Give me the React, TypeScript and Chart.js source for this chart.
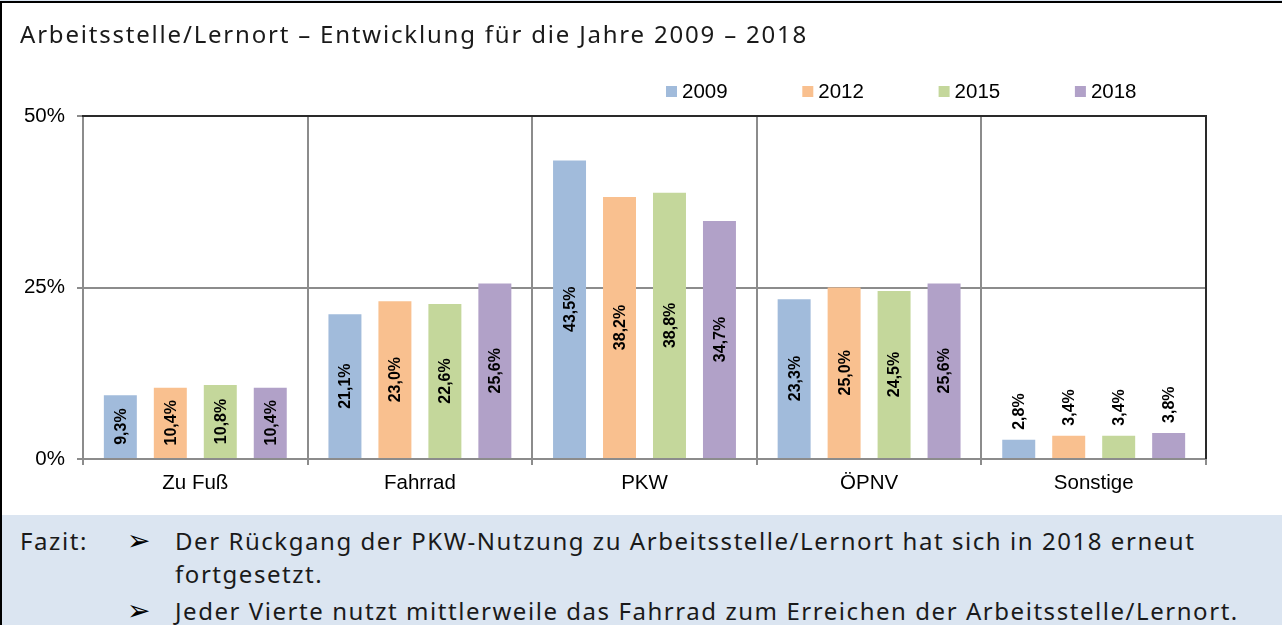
import React, { useEffect, useRef } from 'react';
import { Chart, registerables } from 'chart.js';

Chart.register(...registerables);

const categories = ['Zu Fuß', 'Fahrrad', 'PKW', 'ÖPNV', 'Sonstige'];
const years = ['2009', '2012', '2015', '2018'];
const values2009 = [9.3, 21.1, 43.5, 23.3, 2.8];
const values2012 = [10.4, 23.0, 38.2, 25.0, 3.4];
const values2015 = [10.8, 22.6, 38.8, 24.5, 3.4];
const values2018 = [10.4, 25.6, 34.7, 25.6, 3.8];
const yTicks = [0, 25, 50];
const seriesColors = ['#a1bbdb', '#f9c08f', '#c4d79b', '#b1a1c8'];

const title = 'Arbeitsstelle/Lernort – Entwicklung für die Jahre 2009 – 2018';
const fazitLabel = 'Fazit:';
const fazitLines = [
  ['Der Rückgang der PKW-Nutzung zu Arbeitsstelle/Lernort hat sich in 2018 erneut', 'fortgesetzt.'],
  ['Jeder Vierte nutzt mittlerweile das Fahrrad zum Erreichen der Arbeitsstelle/Lernort.'],
];

const AXIS_FONT = '"Liberation Sans", Arial, sans-serif';
const TEXT_FONT = '"Noto Sans", "DejaVu Sans", sans-serif';
const GRID = '#8c8c8c';

const fmt = (v: number) => v.toFixed(1).replace('.', ',') + '%';

const barLabelPlugin = {
  id: 'barLabels',
  afterDatasetsDraw(chart: any) {
    const ctx = chart.ctx;
    ctx.save();
    ctx.font = 'bold 16px ' + AXIS_FONT;
    ctx.fillStyle = '#000';
    ctx.textAlign = 'center';
    ctx.textBaseline = 'middle';
    chart.data.datasets.forEach((ds: any, di: number) => {
      const meta = chart.getDatasetMeta(di);
      meta.data.forEach((bar: any, i: number) => {
        const v = ds.data[i] as number;
        const text = fmt(v);
        const w = ctx.measureText(text).width;
        const { x, y, base } = bar.getProps(['x', 'y', 'base'], true);
        const h = base - y;
        const cy = h > w + 10 ? (y + base) / 2 : y - 10 - w / 2;
        ctx.save();
        ctx.translate(x + 1, cy);
        ctx.rotate(-Math.PI / 2);
        ctx.fillText(text, 0, 0);
        ctx.restore();
      });
    });
    ctx.restore();
  },
};

const framePlugin = {
  id: 'frame',
  beforeDatasetsDraw(chart: any) {
    const { ctx, chartArea } = chart;
    const { left, right, top, bottom } = chartArea;
    ctx.save();
    ctx.strokeStyle = '#2a2a2a';
    ctx.lineWidth = 2;
    ctx.beginPath();
    ctx.moveTo(left - 1, top);
    ctx.lineTo(right, top);
    ctx.lineTo(right, bottom);
    ctx.stroke();
    ctx.restore();
  },
};

const legendPlugin = {
  id: 'customLegend',
  afterDraw(chart: any) {
    const ctx = chart.ctx;
    const startX = 666;
    const step = 136.3;
    const cy = 91.5;
    const box = 11;
    ctx.save();
    ctx.font = '20.5px ' + AXIS_FONT;
    ctx.textAlign = 'left';
    ctx.textBaseline = 'middle';
    chart.data.datasets.forEach((ds: any, i: number) => {
      const x = startX + i * step;
      ctx.fillStyle = ds.backgroundColor;
      ctx.fillRect(x, cy - box / 2, box, box);
      ctx.fillStyle = '#000';
      ctx.fillText(ds.label, x + 16, cy + 1);
    });
    ctx.restore();
  },
};

const textStyle = {
  position: 'absolute' as const,
  fontSize: 24,
  lineHeight: '28px',
  color: '#1a1a1a',
  whiteSpace: 'nowrap' as const,
};

export default function App() {
  const canvasRef = useRef<HTMLCanvasElement | null>(null);

  useEffect(() => {
    document.body.style.margin = '0';
    const canvas = canvasRef.current;
    if (!canvas) return;
    const seriesValues = [values2009, values2012, values2015, values2018];
    const chart = new Chart(canvas, {
      type: 'bar',
      data: {
        labels: categories,
        datasets: years.map((y, i) => ({
          label: y,
          data: seriesValues[i],
          backgroundColor: seriesColors[i],
          borderWidth: 0,
          categoryPercentage: 0.89,
          barPercentage: 0.66,
        })),
      },
      options: {
        responsive: false,
        maintainAspectRatio: false,
        animation: false,
        devicePixelRatio: 1,
        layout: { padding: { top: 116, left: 0, right: 76, bottom: 16 } },
        plugins: {
          legend: { display: false },
          title: { display: false },
          tooltip: { enabled: false },
        },
        scales: {
          x: {
            offset: true,
            grid: {
              offset: true,
              color: GRID,
              lineWidth: 2,
              drawTicks: true,
              tickLength: 6,
            },
            border: { display: true, color: GRID, width: 2 },
            ticks: {
              color: '#000',
              font: { family: AXIS_FONT, size: 20.5 },
              padding: 6,
              maxRotation: 0,
              autoSkip: false,
            },
            afterFit(scale: any) {
              scale.height = 40;
            },
          },
          y: {
            min: 0,
            max: 50,
            afterBuildTicks(scale: any) {
              scale.ticks = yTicks.map((v) => ({ value: v }));
            },
            grid: {
              color: GRID,
              lineWidth: 2,
              drawTicks: true,
              tickLength: 6,
            },
            border: { display: true, color: GRID, width: 2 },
            ticks: {
              color: '#000',
              font: { family: AXIS_FONT, size: 20.5 },
              padding: 12,
              callback: (v: any) => v + '%',
            },
            afterFit(scale: any) {
              scale.width = 83;
            },
          },
        },
      },
      plugins: [framePlugin, barLabelPlugin, legendPlugin],
    } as any);
    return () => chart.destroy();
  }, []);

  return (
    <div
      style={{
        position: 'absolute',
        left: 0,
        top: 0,
        width: 1282,
        height: 625,
        background: '#fff',
        overflow: 'hidden',
        fontFamily: TEXT_FONT,
      }}
    >
      <canvas
        ref={canvasRef}
        width={1282}
        height={515}
        style={{ position: 'absolute', left: 0, top: 0, width: 1282, height: 515, display: 'block' }}
      />
      <div style={{ ...textStyle, left: 20, top: 20, letterSpacing: '1.8px' }}>{title}</div>
      <div
        style={{
          position: 'absolute',
          left: 0,
          top: 515,
          width: 1282,
          height: 110,
          background: '#dbe5f1',
        }}
      />
      <div style={{ ...textStyle, left: 20, top: 527, letterSpacing: '1.6px' }}>{fazitLabel}</div>
      {fazitLines.map((para, pi) => {
        const top = pi === 0 ? 527 : 597;
        return (
          <React.Fragment key={pi}>
            <div
              style={{
                ...textStyle,
                left: 127,
                top: top - 1,
                fontSize: 28,
                lineHeight: '30px',
                fontFamily: '"DejaVu Sans", sans-serif',
                color: '#000',
              }}
            >
              ➢
            </div>
            {para.map((line, li) => (
              <div key={li} style={{ ...textStyle, left: 175, top: top + li * 33, letterSpacing: '1.55px' }}>
                {line}
              </div>
            ))}
          </React.Fragment>
        );
      })}
      <div style={{ position: 'absolute', left: 0, top: 0, width: 1282, height: 1, background: '#dbe5f1' }} />
      <div style={{ position: 'absolute', left: 0, top: 1, width: 1282, height: 2, background: '#000' }} />
      <div style={{ position: 'absolute', left: 0, top: 1, width: 2, height: 624, background: '#000' }} />
    </div>
  );
}
